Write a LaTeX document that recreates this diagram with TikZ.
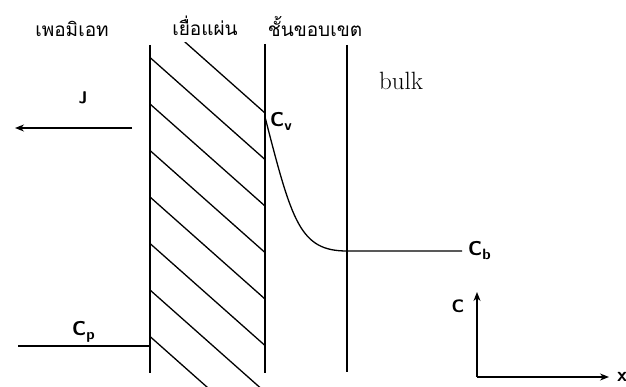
\documentclass[tikz,border=0pt]{standalone}
\usepackage{fontspec}
\newfontfamily\thaifont[Script=Thai]{Loma}
\usetikzlibrary{arrows.meta}
\newcommand{\subl}[1]{\raisebox{-4pt}{\fontsize{15}{15}\selectfont #1}}
\tikzset{
  wall/.style={line width=1.5pt},
  thin/.style={line width=1.3pt},
  thailbl/.style={font=\thaifont\fontsize{19}{19}\selectfont, inner sep=0pt},
  clbl/.style={font=\sffamily\bfseries\fontsize{20}{20}\selectfont, inner sep=0pt},
  tip/.style={-{Stealth[length=9pt,width=7pt]}}
}
\begin{document}
\begin{tikzpicture}[x=1pt,y=-1pt]
\useasboundingbox (0,0) rectangle (626,387);
% labels
\node[thailbl] (perm) at (72,29) {เพอมิเอท};
\node[thailbl] (memb) at (205,26) {เยื่อแผ่น};
\node[thailbl] (bnd) at (315,26) {ชั้นขอบเขต};
\node[font=\fontsize{25}{25}\selectfont, inner sep=0pt] (bulk) at (401,81) {bulk};
% walls
\coordinate (mL1) at (150,45); \coordinate (mL2) at (150,373);
\coordinate (mR1) at (265,44); \coordinate (mR2) at (265,373);
\coordinate (bL1) at (347,45); \coordinate (bL2) at (347,372);
\draw[wall] (mL1) -- (mL2);
\draw[wall] (mR1) -- (mR2);
\draw[wall] (bL1) -- (bL2);
% hatching
\begin{scope}
\clip (150,43) rectangle (265,387);
\foreach \k in {0,...,7} \draw[thin] (150,11+46.5*\k) -- ++(115,102);
\end{scope}
% flux
\node[font=\sffamily\bfseries\fontsize{17}{17}\selectfont, inner sep=0pt] (J) at (83,98) {J};
\coordinate (jS) at (132,128); \coordinate (jE) at (15,128);
\draw[thin,tip] (jS) -- (jE);
% concentration profile
\node[clbl, anchor=west] (Cv) at (270,121) {C\subl{v}};
\coordinate (c0) at (265,117);
\coordinate (c1) at (347,251);
\coordinate (c2) at (462,251);
\draw[thin] (c0) .. controls (292,222) and (300,251) .. (c1) -- (c2);
\node[clbl, anchor=west] (Cb) at (468,251) {C\subl{b}};
% permeate
\coordinate (p0) at (18,346); \coordinate (p1) at (150,346);
\draw[thin] (p0) -- (p1);
\node[clbl, anchor=west] (Cp) at (72,332) {C\subl{p}};
% axes
\coordinate (o) at (477,377);
\coordinate (ya) at (477,292);
\coordinate (xa) at (609,377);
\draw[thin,tip] (o) -- (ya);
\draw[thin,tip] (o) -- (xa);
\node[clbl, font=\sffamily\bfseries\fontsize{18}{18}\selectfont] (Cax) at (458,306) {C};
\node[clbl, anchor=west] (xl) at (617,377) {x};
\end{tikzpicture}
\end{document}
